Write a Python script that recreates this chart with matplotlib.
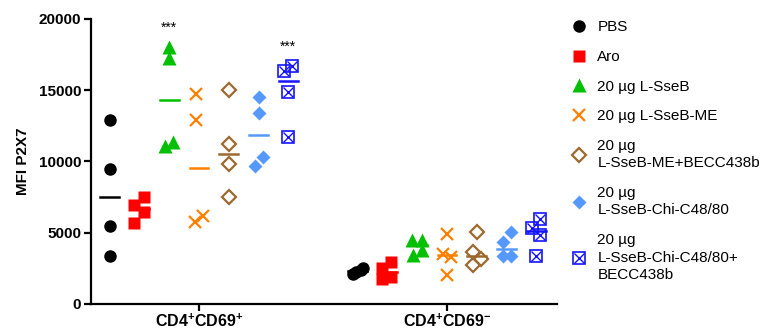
import matplotlib
matplotlib.use("Agg")
import matplotlib.pyplot as plt
import numpy as np
from matplotlib.lines import Line2D

plt.rcParams.update({
    "font.family": "Liberation Sans",
    "mathtext.fontset": "custom",
    "mathtext.bf": "Liberation Sans:bold",
    "mathtext.rm": "Liberation Sans:bold",
    "mathtext.default": "bf",
    "axes.linewidth": 1.6,
    "axes.spines.top": False,
    "axes.spines.right": False,
})

CATEGORIES = ["CD4$^{+}$CD69$^{+}$", "CD4$^{+}$CD69$^{-}$"]
GROUPS = ["PBS", "Aro", "20 µg L-SseB", "20 µg L-SseB-ME",
          "20 µg\nL-SseB-ME+BECC438b", "20 µg\nL-SseB-Chi-C48/80",
          "20 µg\nL-SseB-Chi-C48/80+\nBECC438b"]

# MFI P2X7 per mouse, [CD69+ values, CD69- values]
pbs = [[12900, 9470, 5460, 3350], [2100, 2250, 2400, 2500]]
aro = [[7480, 6920, 6440, 5670], [2960, 2530, 1900, 1740]]
sseb = [[18060, 17240, 11100, 11340], [4480, 4480, 3420, 3770]]
sseb_me = [[14740, 12900, 5760, 6160], [4920, 3520, 3260, 2000]]
sseb_me_becc = [[15020, 11220, 9820, 7520], [5040, 3630, 3140, 2720]]
sseb_chi = [[14550, 13420, 10330, 9700], [5040, 4340, 3350, 3350]]
sseb_chi_becc = [[16730, 16350, 14900, 11690], [5950, 5320, 4830, 3350]]
DATA = [pbs, aro, sseb, sseb_me, sseb_me_becc, sseb_chi, sseb_chi_becc]
SIGNIF = {(2, 0): "***", (6, 0): "***"}

# layout only: sideways scatter so overlapping points stay visible (pixels)
JIT = [
    [[0, 0, 0, 0], [-5, -2, 3, 5]],
    [[5, -5, 5, -5], [4, -5, 4, -5]],
    [[0, 0, -4, 4], [-5, 5, -4, 5]],
    [[-3, -3, -4, 4], [0, -4, 4, 0]],
    [[0, 0, 0, 0], [0, -4, 4, -4]],
    [[0, 0, 4, -4], [4, -4, -4, 4]],
    [[4, -4, 0, 0], [4, -4, 4, 0]],
]

COLORS = ["black", "#ff0000", "#00c000", "#ff8000", "#9c6a2e", "#5599ff", "#1414ff"]
STYLE = [
    dict(marker="o", ms=9, mec="none"),
    dict(marker="s", ms=8.5, mec="none"),
    dict(marker="^", ms=9.5, mec="none"),
    dict(marker="x", ms=8, mew=1.6),
    dict(marker="D", ms=7, mfc="none", mew=1.6),
    dict(marker="D", ms=7.5, mec="none"),
    dict(marker="s", ms=8.5, mfc="none", mew=1.2),
]

fig = plt.figure(figsize=(7.66, 3.31), dpi=100)
ax = fig.add_axes([91 / 766, 1 - 303.7 / 331, (557 - 91) / 766, (303.7 - 19) / 331])

px = 1 / 248  # data units per pixel along x
step = 0.12
for g, (vals, jit) in enumerate(zip(DATA, JIT)):
    c = COLORS[g]
    for k in range(len(CATEGORIES)):
        x0 = k + (g - 3) * step
        y = np.array(vals[k])
        xs = x0 + np.array(jit[k]) * px
        med = np.median(y)
        ax.plot([x0 - 0.038, x0 + 0.038], [med, med], color=c, lw=1.8, zorder=2)
        ax.plot(xs, y, ls="none", color=c, zorder=3, clip_on=False, **STYLE[g])
        if g == 6:
            ax.plot(xs, y, ls="none", marker="x", ms=6.5, mew=1.0, color=c, zorder=4)
        if (g, k) in SIGNIF:
            ax.text(x0, y.max() + 1350, SIGNIF[(g, k)], ha="center", va="center",
                    fontsize=10, fontweight="normal")

ax.set_xlim(-0.4355, 1.4435)
ax.set_ylim(0, 20000)
ax.set_xticks(range(len(CATEGORIES)), CATEGORIES)
ax.set_yticks([0, 5000, 10000, 15000, 20000])
ax.tick_params(axis="both", length=5, width=1.6, labelsize=11, pad=2)
ax.tick_params(axis="x", labelsize=11.5, pad=1.5)
for lab in ax.get_xticklabels() + ax.get_yticklabels():
    lab.set_fontweight("bold")
ax.set_ylabel("MFI P2X7", fontsize=11, fontweight="bold", labelpad=6)

handles = []
for g in range(len(GROUPS)):
    h = Line2D([], [], ls="none", color=COLORS[g], **STYLE[g])
    if g == 6:
        h = (h, Line2D([], [], ls="none", marker="x", ms=6.5, mew=1.0, color=COLORS[g]))
    handles.append(h)
leg = fig.legend(handles, GROUPS, loc="upper left", bbox_to_anchor=(0.744, 0.939),
                 frameon=False, fontsize=11, handlelength=1.2, handletextpad=0.6,
                 labelspacing=1.03, borderpad=0, borderaxespad=0)
for t in leg.get_texts():
    t.set_linespacing(1.3)

fig.savefig("out.png", dpi=100)
